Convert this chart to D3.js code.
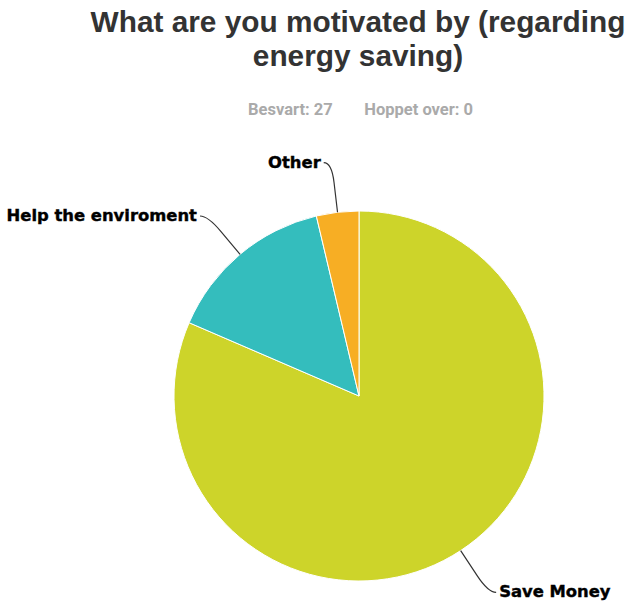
<!DOCTYPE html>
<html>
<head>
<meta charset="utf-8">
<script src="https://cdn.jsdelivr.net/npm/d3@7"></script>
<style>
  html, body { margin: 0; padding: 0; background: #fff; }
  svg { display: block; }
</style>
</head>
<body>
<svg id="chart" width="628" height="601"></svg>
<script>
// Survey answers: what motivates energy saving
const categories = ["Save Money", "Help the enviroment", "Other"];
const counts = [22, 4, 1];
const colors = ["#cdd42a", "#34bdbd", "#f7ae24"];
const titleLines = ["What are you motivated by (regarding", "energy saving)"];
const answered = 27;
const skipped = 0;

const width = 628, height = 601;
const cx = 359, cy = 396, radius = 185;

const svg = d3.select("#chart");

// Title
svg.append("text")
  .attr("x", 358).attr("y", 0)
  .attr("text-anchor", "middle")
  .attr("font-family", "'Liberation Sans', Arial, sans-serif")
  .attr("font-weight", "bold")
  .attr("font-size", 29.8)
  .attr("fill", "#333")
  .selectAll("tspan")
  .data(titleLines)
  .join("tspan")
  .attr("x", 358)
  .attr("y", (d, i) => 32 + i * 33.5)
  .text(d => d);

// Response counts under the title
const sub = svg.append("g")
  .attr("font-family", "Roboto, 'Liberation Sans', Arial, sans-serif")
  .attr("font-weight", "bold")
  .attr("font-size", 16.5)
  .attr("fill", "#aaaaaa");
sub.append("text").attr("x", 248).attr("y", 115).text("Besvart: " + answered);
sub.append("text").attr("x", 473).attr("y", 115).attr("text-anchor", "end").text("Hoppet over: " + skipped);

// Pie
const data = categories.map((c, i) => ({ name: c, value: counts[i], color: colors[i] }));
const pie = d3.pie().value(d => d.value).sort(null);
const arcs = pie(data);
const arc = d3.arc().innerRadius(0).outerRadius(radius);

const g = svg.append("g").attr("transform", `translate(${cx},${cy})`);
g.selectAll("path.slice")
  .data(arcs)
  .join("path")
  .attr("class", "slice")
  .attr("d", arc)
  .attr("fill", d => d.data.color)
  .attr("stroke", "#fff")
  .attr("stroke-width", 1);

// Data labels with curved connectors
const polar = (a, r) => [Math.sin(a) * r, -Math.cos(a) * r];
const labels = g.append("g");
arcs.forEach(d => {
  const a = (d.startAngle + d.endAngle) / 2;
  const right = Math.sin(a) > 0;
  const dir = right ? 1 : -1;
  const p1 = polar(a, radius);
  const p2 = polar(a, radius + 30);
  const pc = polar(a, radius + 50);
  const p3 = [pc[0] + dir * 8, pc[1]];
  labels.append("path")
    .attr("d", `M${p1[0]},${p1[1]}L${p2[0]},${p2[1]}Q${pc[0]},${pc[1]} ${p3[0]},${p3[1]}`)
    .attr("fill", "none")
    .attr("stroke", "#333")
    .attr("stroke-width", 1.2);
  labels.append("text")
    .attr("x", p3[0] + dir * 3)
    .attr("y", p3[1])
    .attr("dy", "0.3em")
    .attr("text-anchor", right ? "start" : "end")
    .attr("font-family", "'DejaVu Sans', Verdana, sans-serif")
    .attr("font-weight", "bold")
    .attr("font-size", 16.4)
    .attr("fill", "#000")
    .attr("stroke", "#000")
    .attr("stroke-width", 0.4)
    .text(d.data.name);
});
</script>
</body>
</html>
